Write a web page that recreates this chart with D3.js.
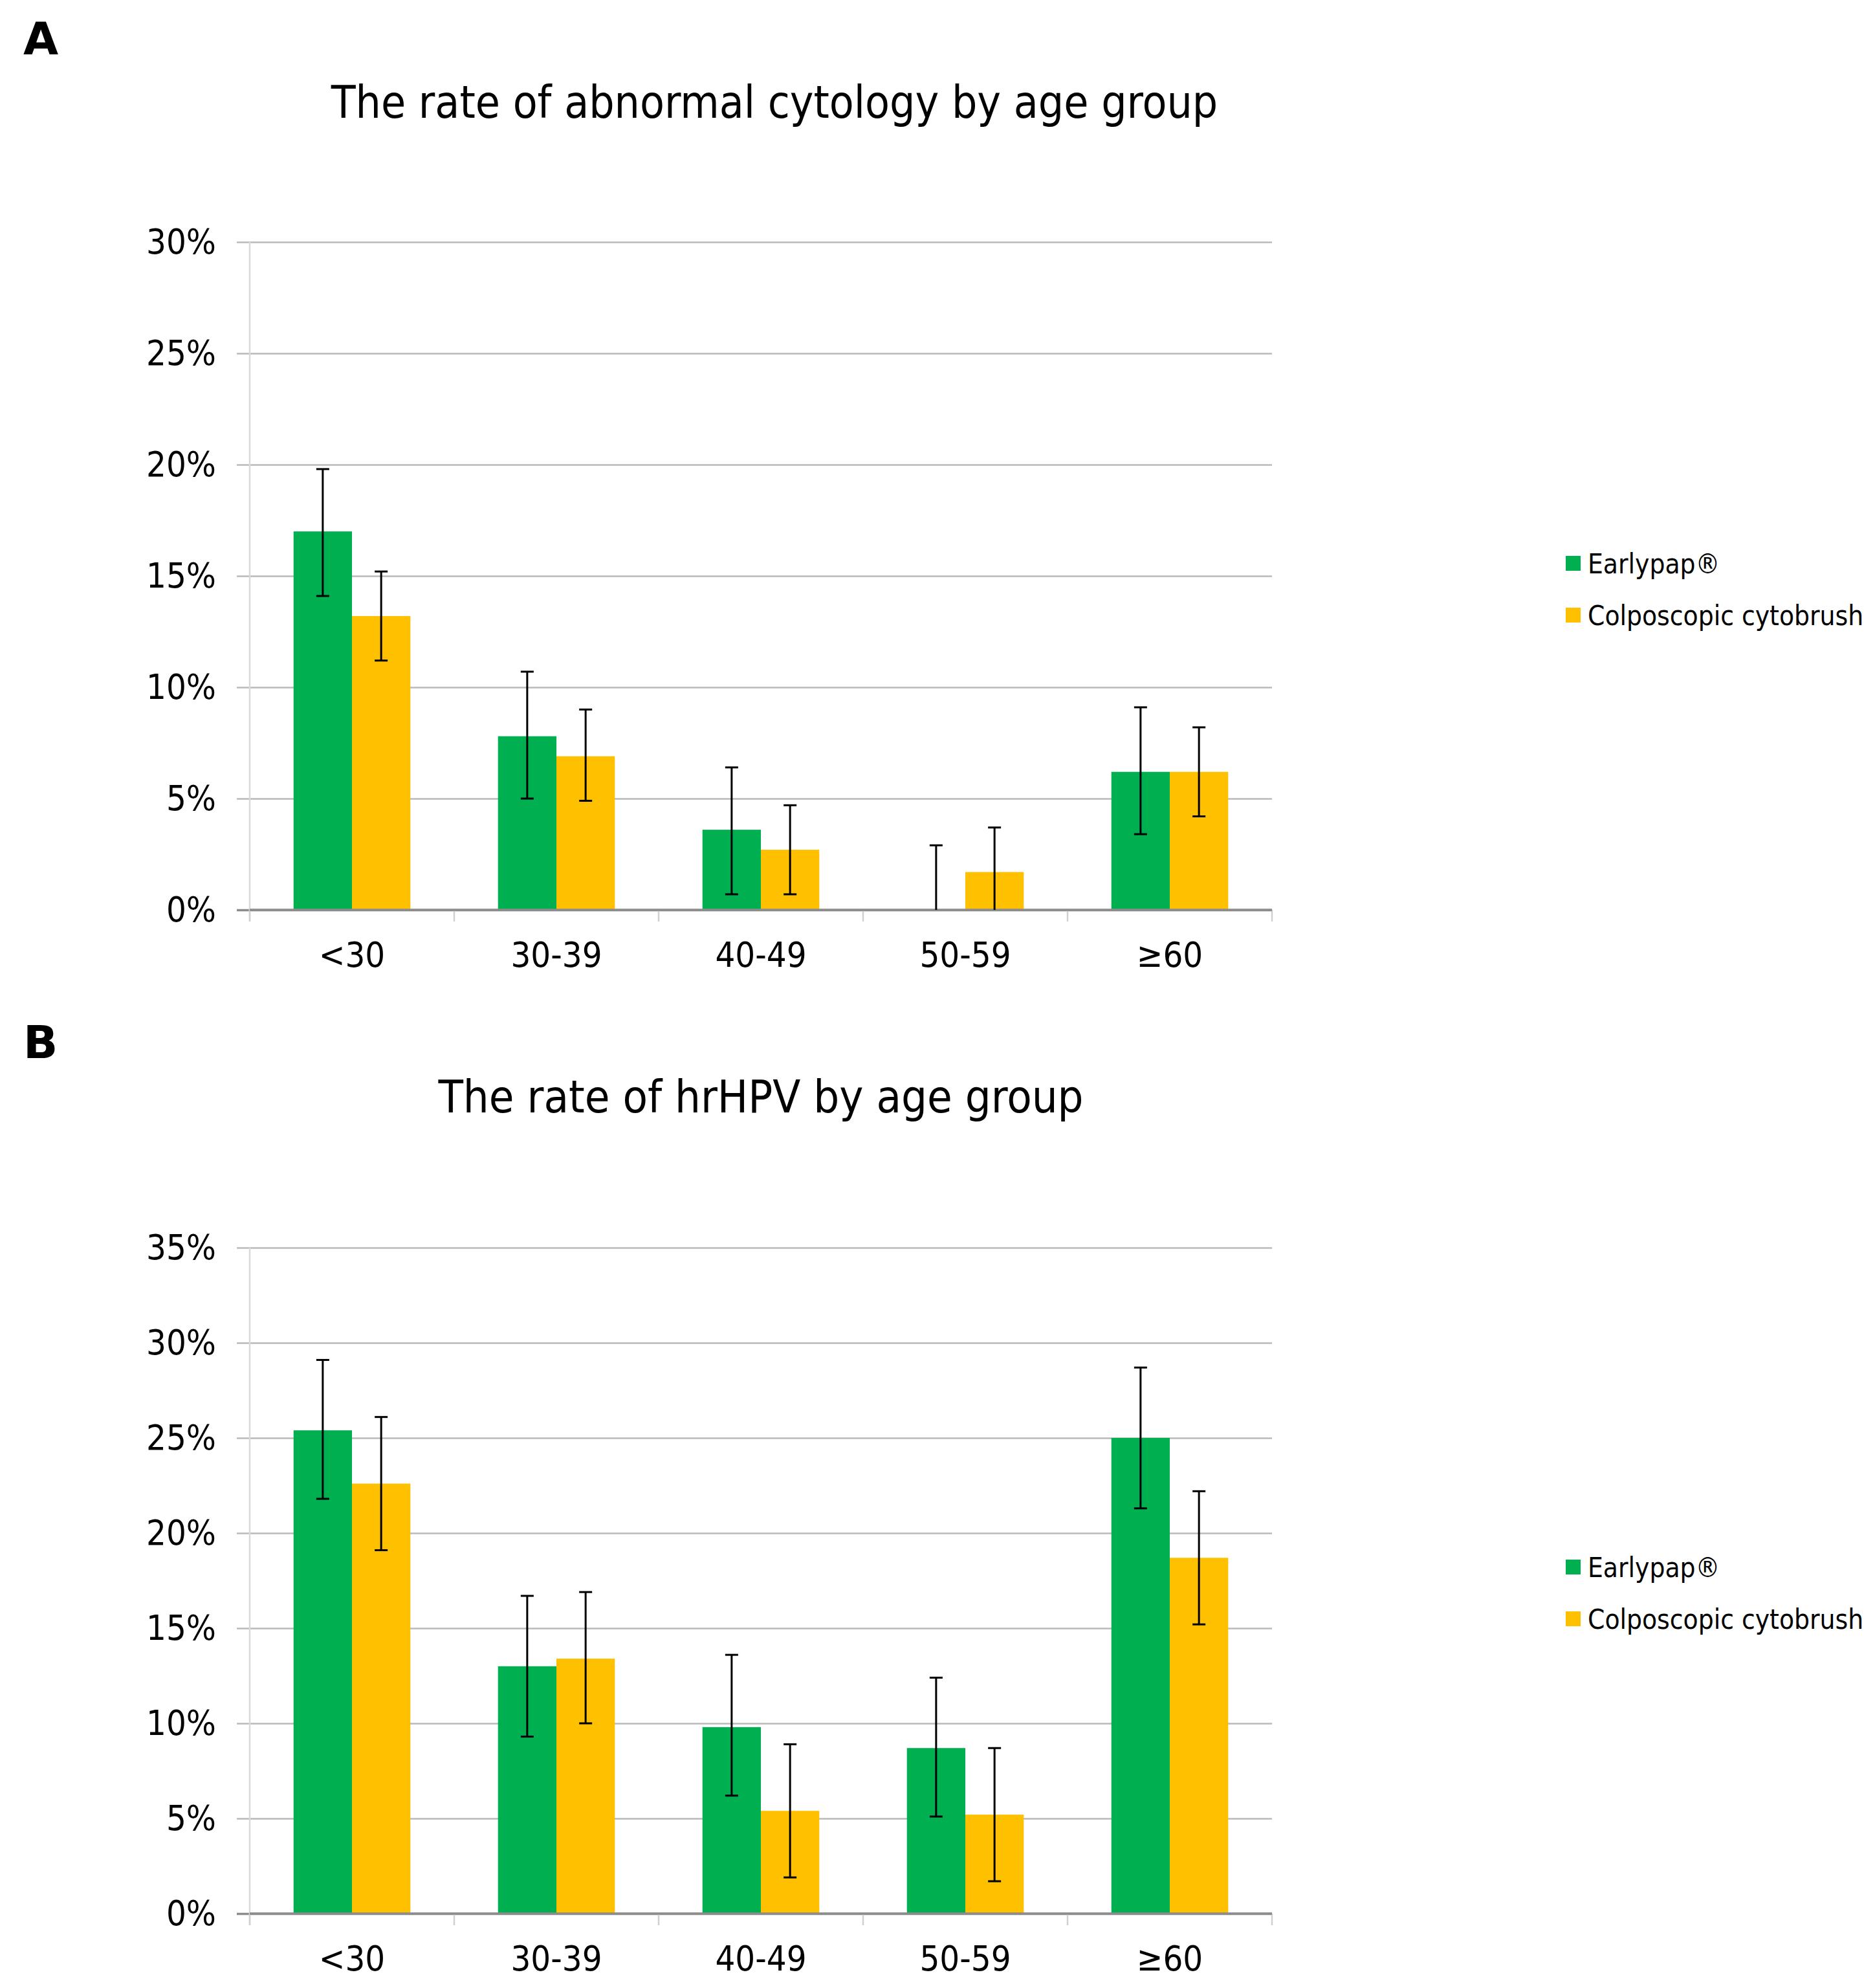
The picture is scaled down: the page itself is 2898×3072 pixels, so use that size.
<!DOCTYPE html>
<html>
<head>
<meta charset="utf-8">
<script src="https://cdn.jsdelivr.net/npm/d3@7"></script>
<style>
  body { margin: 0; background: #fff; }
  text { font-family: "DejaVu Sans Condensed", "DejaVu Sans", sans-serif; fill: #000; }
</style>
</head>
<body>
<div id="chart"></div>
<script>
// categories and series
const categories = ["<30", "30-39", "40-49", "50-59", "≥60"];
const seriesNames = ["Earlypap®", "Colposcopic cytobrush"];
const seriesColors = ["#00B050", "#FFC000"];

// Panel A: abnormal cytology (%), with error bar lower/upper ends
const cytologyEarlypap = [17.0, 7.8, 3.6, 0.0, 6.2];
const cytologyEarlypapLow = [14.1, 5.0, 0.7, 0.0, 3.4];
const cytologyEarlypapHigh = [19.8, 10.7, 6.4, 2.9, 9.1];
const cytologyBrush = [13.2, 6.9, 2.7, 1.7, 6.2];
const cytologyBrushLow = [11.2, 4.9, 0.7, 0.0, 4.2];
const cytologyBrushHigh = [15.2, 9.0, 4.7, 3.7, 8.2];
const cytologyTicks = [0, 5, 10, 15, 20, 25, 30];

// Panel B: hrHPV (%)
const hpvEarlypap = [25.4, 13.0, 9.8, 8.7, 25.0];
const hpvEarlypapLow = [21.8, 9.3, 6.2, 5.1, 21.3];
const hpvEarlypapHigh = [29.1, 16.7, 13.6, 12.4, 28.7];
const hpvBrush = [22.6, 13.4, 5.4, 5.2, 18.7];
const hpvBrushLow = [19.1, 10.0, 1.9, 1.7, 15.2];
const hpvBrushHigh = [26.1, 16.9, 8.9, 8.7, 22.2];
const hpvTicks = [0, 5, 10, 15, 20, 25, 30, 35];

const W = 2898, H = 3072;

const svg = d3.select("#chart").append("svg")
  .attr("width", W)
  .attr("height", H)
  .attr("viewBox", `0 0 ${W} ${H}`);

svg.append("rect").attr("width", W).attr("height", H).attr("fill", "#fff");

function drawPanel(p) {
  const g = svg.append("g");

  // panel letter
  g.append("text")
    .attr("x", 36).attr("y", p.letterY)
    .style("font-family", "'DejaVu Sans', sans-serif")
    .style("font-weight", "bold")
    .style("font-size", "70px")
    .text(p.letter);

  // title
  g.append("text")
    .attr("x", p.titleX).attr("y", p.titleY)
    .attr("text-anchor", "middle")
    .style("font-size", p.titleSize + "px")
    .text(p.title);

  const left = 386, right = 1966;
  const x = d3.scaleBand().domain(categories).range([left, right])
    .paddingInner(1.5 / 3.5).paddingOuter(0.75 / 3.5);
  const xs = d3.scaleBand().domain(seriesNames).range([0, x.bandwidth()]);
  const y = d3.scaleLinear().domain([0, d3.max(p.ticks)]).range([p.bottom, p.top]);

  // gridlines + y labels
  const yAxis = g.append("g")
    .attr("transform", `translate(${left - 20},0)`)
    .call(d3.axisLeft(y).tickValues(p.ticks)
      .tickSize(-(right - left + 20)).tickPadding(32)
      .tickFormat(d => d + "%"));
  yAxis.select(".domain").remove();
  yAxis.selectAll(".tick line")
    .attr("stroke", d => d === 0 ? "#8c8c8c" : "#bababa")
    .attr("stroke-width", d => d === 0 ? 3.5 : 2.5);
  yAxis.selectAll(".tick text")
    .style("font-size", "54px")
    .style("font-family", "'DejaVu Sans Condensed', sans-serif")
    .attr("fill", "#000");

  // left axis line
  g.append("line")
    .attr("x1", left).attr("x2", left)
    .attr("y1", y(d3.max(p.ticks))).attr("y2", y(0) + 18)
    .attr("stroke", "#d9d9d9").attr("stroke-width", 2.5);

  // category boundary ticks
  const edges = categories.map(c => x(c) - x.step() * x.paddingOuter()).concat([right]);
  g.selectAll(".cat-tick").data(edges).join("line")
    .attr("class", "cat-tick")
    .attr("x1", d => d).attr("x2", d => d)
    .attr("y1", y(0)).attr("y2", y(0) + 18)
    .attr("stroke", "#d0d0d0").attr("stroke-width", 2.5);

  // category labels
  const xAxis = g.append("g")
    .attr("transform", `translate(0,${y(0)})`)
    .call(d3.axisBottom(x).tickSize(0).tickPadding(50));
  xAxis.select(".domain").remove();
  xAxis.selectAll(".tick text")
    .style("font-size", "54px")
    .style("font-family", "'DejaVu Sans Condensed', sans-serif")
    .attr("fill", "#000");

  // bars
  const rows = [];
  p.series.forEach((s, si) => {
    categories.forEach((c, ci) => {
      rows.push({ cat: c, name: seriesNames[si], color: seriesColors[si],
        v: s.values[ci], lo: s.low[ci], hi: s.high[ci] });
    });
  });

  g.selectAll(".bar").data(rows).join("rect")
    .attr("class", "bar")
    .attr("x", d => x(d.cat) + xs(d.name))
    .attr("width", xs.bandwidth())
    .attr("y", d => y(d.v))
    .attr("height", d => y(0) - y(d.v))
    .attr("fill", d => d.color);

  // redraw baseline over bars
  g.append("line")
    .attr("x1", left).attr("x2", right)
    .attr("y1", y(0)).attr("y2", y(0))
    .attr("stroke", "#8c8c8c").attr("stroke-width", 3.5);

  // error bars
  const cap = 10;
  const eb = g.selectAll(".err").data(rows).join("g")
    .attr("class", "err")
    .attr("transform", d => `translate(${x(d.cat) + xs(d.name) + xs.bandwidth() / 2},0)`);
  eb.append("line")
    .attr("y1", d => y(Math.max(d.lo, 0))).attr("y2", d => y(d.hi))
    .attr("stroke", "#000").attr("stroke-width", 3);
  eb.append("line")
    .attr("x1", -cap).attr("x2", cap)
    .attr("y1", d => y(d.hi)).attr("y2", d => y(d.hi))
    .attr("stroke", "#000").attr("stroke-width", 3);
  eb.filter(d => d.lo > 0).append("line")
    .attr("x1", -cap).attr("x2", cap)
    .attr("y1", d => y(d.lo)).attr("y2", d => y(d.lo))
    .attr("stroke", "#000").attr("stroke-width", 3);

  // legend
  const lg = g.append("g").attr("transform", `translate(2420,${p.legendY})`);
  seriesNames.forEach((name, i) => {
    const item = lg.append("g").attr("transform", `translate(0,${i * 80})`);
    item.append("rect")
      .attr("x", 0).attr("y", -12)
      .attr("width", 23).attr("height", 23)
      .attr("fill", seriesColors[i]);
    item.append("text")
      .attr("x", 34).attr("y", 0)
      .attr("dy", "0.36em")
      .style("font-size", "42px")
      .text(name);
  });
}

drawPanel({
  letter: "A", letterY: 84,
  title: "The rate of abnormal cytology by age group",
  titleX: 1197, titleY: 182, titleSize: 69,
  top: 374, bottom: 1406,
  ticks: cytologyTicks,
  legendY: 871,
  series: [
    { values: cytologyEarlypap, low: cytologyEarlypapLow, high: cytologyEarlypapHigh },
    { values: cytologyBrush, low: cytologyBrushLow, high: cytologyBrushHigh }
  ]
});

drawPanel({
  letter: "B", letterY: 1635,
  title: "The rate of hrHPV by age group",
  titleX: 1176, titleY: 1719, titleSize: 70,
  top: 1928, bottom: 2957,
  ticks: hpvTicks,
  legendY: 2422,
  series: [
    { values: hpvEarlypap, low: hpvEarlypapLow, high: hpvEarlypapHigh },
    { values: hpvBrush, low: hpvBrushLow, high: hpvBrushHigh }
  ]
});
</script>
</body>
</html>
